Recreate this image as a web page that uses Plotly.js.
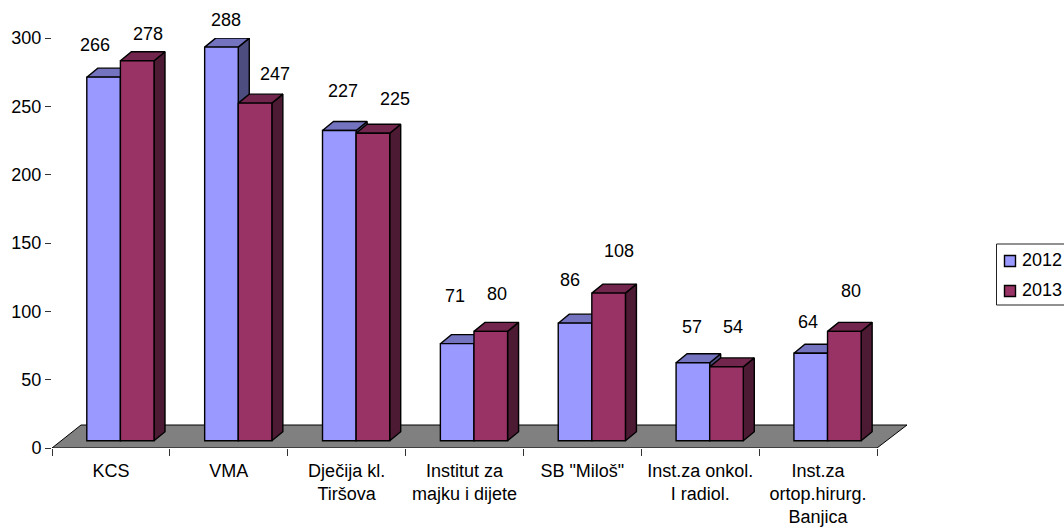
<!DOCTYPE html>
<html>
<head>
<meta charset="utf-8">
<script src="https://cdn.plot.ly/plotly-3.0.1.min.js"></script>
<style>html,body{margin:0;padding:0;background:#fff;overflow:hidden}#chart{width:1064px;height:529px}</style>
</head>
<body>
<div id="chart"></div>
<script>
const categories = ['KCS', 'VMA', 'Dječija kl.<br>Tiršova', 'Institut za<br>majku i dijete', 'SB "Miloš"', 'Inst.za onkol.<br>I radiol.', 'Inst.za<br>ortop.hirurg.<br>Banjica'];
const series2012 = [266, 288, 227, 71, 86, 57, 64];
const series2013 = [278, 247, 225, 80, 108, 54, 80];
const yTicks = [0, 50, 100, 150, 200, 250, 300];
const labelX2012 = [95, 226, 343, 455, 570, 692, 808];
const labelY2012 = [45, 20, 91, 296, 280, 327, 322];
const labelX2013 = [148, 275, 395, 497, 619, 733, 851];
const labelY2013 = [34, 74, 99, 294, 251, 327, 291];

const W = 1064, H = 529, L = 52, AXR = 877, R = 908, T = 38, B = 448;
const pxX = (AXR - L) / 7, pxY = (B - T) / 300;
const xMax = (R - L) / pxX;
const barW = 33.6 / pxX, pairC = 68.4 / pxX;
const dX = 11 / pxX, dY = 9 / pxY;
const baseShift = -7.3 / pxY;
const FONT = 'Liberation Sans, Arial, sans-serif';

function polys(values, off, kind) {
  const xs = [], ys = [];
  values.forEach((v, i) => {
    const x0 = i + pairC + off, x1 = x0 + barW;
    if (kind === 'top') {
      xs.push(x0, x1, x1 + dX, x0 + dX, x0, null);
      ys.push(v, v, v + dY, v + dY, v, null);
    } else {
      xs.push(x1, x1 + dX, x1 + dX, x1, x1, null);
      ys.push(v, v + dY, 0 + dY, 0, v, null);
    }
  });
  return {x: xs, y: ys};
}
function face(values, off, kind, color, z) {
  const p = polys(values, off, kind);
  return {type: 'scatter', mode: 'lines', x: p.x, y: p.y, xaxis: 'x', yaxis: 'y2', fill: 'toself', fillcolor: color,
    line: {color: '#000', width: 1.4}, hoverinfo: 'skip', showlegend: false, cliponaxis: false, zorder: z};
}
function bars(values, off, color, name, z) {
  return {type: 'bar', name, x: values.map((_, i) => i + pairC), y: values, xaxis: 'x', yaxis: 'y2',
    width: barW, offset: off, marker: {color, line: {color: '#000', width: 1.4}}, showlegend: false, cliponaxis: false, zorder: z};
}
const floorY = baseShift, floorTop = baseShift + 23 / pxY;
const traces = [
  {type: 'scatter', mode: 'lines', x: [null], y: [null], xaxis: 'x', yaxis: 'y', hoverinfo: 'skip', showlegend: false},
  {type: 'scatter', mode: 'lines', x: [null], y: [null], xaxis: 'x2', yaxis: 'y', hoverinfo: 'skip', showlegend: false},
  {type: 'scatter', mode: 'lines', x: [0, 7, 7 + 30 / pxX, 29 / pxX, 0], y: [floorY, floorY, floorTop, floorTop, floorY],
   xaxis: 'x', yaxis: 'y2', fill: 'toself', fillcolor: '#808080', line: {color: '#000', width: 1}, hoverinfo: 'skip', showlegend: false, cliponaxis: false, zorder: 0},
  face(series2012, -barW, 'side', '#4D4D80', 1),
  face(series2012, -barW, 'top', '#7373BF', 1),
  bars(series2012, -barW, '#9999FF', '2012', 2),
  face(series2013, 0, 'side', '#4D1A33', 3),
  face(series2013, 0, 'top', '#73264D', 3),
  bars(series2013, 0, '#993366', '2013', 4)
];

const legX = v => (v - L) / (R - L), legY = v => (B - v) / (B - T);
const annotations = [];
[[series2012, labelX2012, labelY2012], [series2013, labelX2013, labelY2013]].forEach(([vals, px, py]) => vals.forEach((v, i) => {
  annotations.push({xref: 'paper', yref: 'paper', x: legX(px[i]), y: legY(py[i]), text: String(v), showarrow: false,
    xanchor: 'center', yanchor: 'middle', font: {family: FONT, size: 18, color: '#000'}});
}));
const legendItems = [['2012', '#9999FF', 260], ['2013', '#993366', 290]];
const shapes = [{type: 'rect', xref: 'paper', yref: 'paper', x0: legX(996.5), x1: legX(1080), y0: legY(244), y1: legY(305), line: {color: '#222', width: 1}, fillcolor: '#fff'}];
legendItems.forEach(([t, c, y]) => {
  shapes.push({type: 'rect', xref: 'paper', yref: 'paper', x0: legX(1004.5), x1: legX(1015.5), y0: legY(y - 4.5), y1: legY(y + 6.5), line: {color: '#000', width: 1.4}, fillcolor: c});
  annotations.push({xref: 'paper', yref: 'paper', x: legX(1019.5), y: legY(y), text: t, showarrow: false, xanchor: 'left', yanchor: 'middle', font: {family: FONT, size: 18, color: '#000'}});
});

const layout = {
  width: W, height: H, margin: {l: L, r: W - R, t: T, b: H - B, pad: 0}, paper_bgcolor: '#fff', plot_bgcolor: 'rgba(0,0,0,0)',
  showlegend: false, barmode: 'overlay', hovermode: false,
  font: {family: FONT, size: 18, color: '#000'},
  xaxis: {type: 'linear', range: [0, xMax], tickmode: 'array', tickvals: [0,1,2,3,4,5,6,7], ticktext: ['','','','','','','',''],
    ticks: 'outside', ticklen: 7, tickwidth: 1, tickcolor: '#333', showgrid: false, zeroline: false, showline: false, anchor: 'y'},
  xaxis2: {type: 'linear', range: [0, xMax], overlaying: 'x', anchor: 'y', side: 'bottom', tickmode: 'array', tickvals: categories.map((_, i) => i + 0.5), ticktext: categories,
    ticks: 'outside', ticklen: 6, tickcolor: 'rgba(0,0,0,0)', tickangle: 0, showgrid: false, zeroline: false, showline: false, tickfont: {family: FONT, size: 18, color: '#000'}},
  yaxis: {type: 'linear', range: [0, 300], tickmode: 'array', tickvals: yTicks, ticks: 'outside', ticklen: 6, tickwidth: 1, tickcolor: '#333',
    showgrid: false, zeroline: false, showline: true, linecolor: '#333', linewidth: 1, anchor: 'x', tickfont: {family: FONT, size: 18, color: '#000'}},
  yaxis2: {type: 'linear', range: [baseShift, 300 + baseShift], overlaying: 'y', visible: false, anchor: 'x'},
  shapes, annotations
};
Plotly.newPlot('chart', traces, layout, {displayModeBar: false, staticPlot: true});
</script>
</body>
</html>
